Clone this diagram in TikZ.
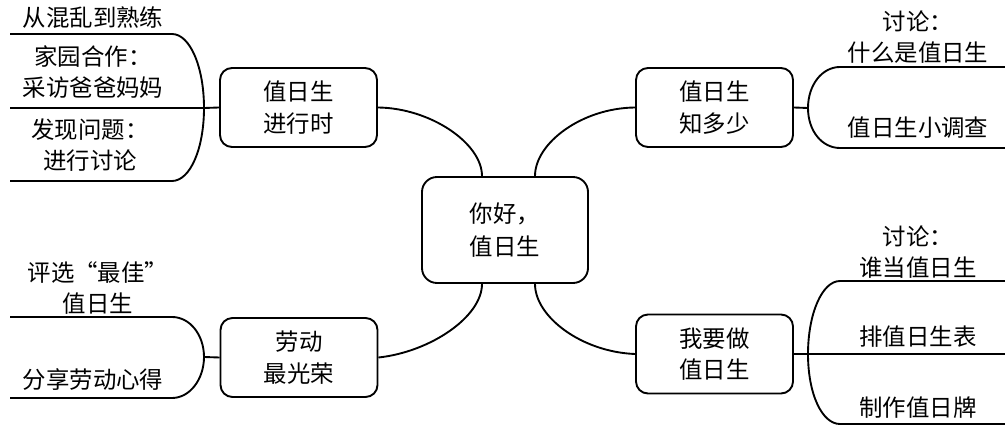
\documentclass[tikz,border=0pt]{standalone}
\usepackage{fontspec}
\setmainfont{Noto Sans CJK SC}

\begin{document}
\begin{tikzpicture}[x=0.03cm,y=-0.03cm,line width=1.6pt,
                    hub/.style={draw,rounded corners=0.45cm,minimum width=4.98cm,minimum height=3.18cm,
                      align=center,font=\fontsize{20}{28}\selectfont},
                    branch/.style={draw,rounded corners=0.36cm,minimum width=4.71cm,minimum height=2.37cm,
                      align=center,font=\fontsize{20}{27}\selectfont},
                    leaf/.style={align=center,font=\fontsize{20}{27}\selectfont}]
  \useasboundingbox (0,0) rectangle (1005,426);
  % centre and branches
  \node[hub] (hub) at (505,230) {你好，\\值日生};
  \node[branch] (now) at (298.5,107.5) {值日生\\进行时};
  \node[branch] (know) at (714.5,107.5) {值日生\\知多少};
  \node[branch] (labour) at (299,357.5) {劳动\\最光荣};
  \node[branch] (duty) at (714.5,354) {我要做\\值日生};
  \draw (now.east) .. controls (430,108) and (482,143) .. ([xshift=-0.69cm]hub.north);
  \draw (know.west) .. controls (582,108) and (535,143) .. ([xshift=0.9cm]hub.north);
  \draw (labour.east) .. controls (430,352) and (482,317) .. ([xshift=-0.69cm]hub.south);
  \draw (duty.west) .. controls (582,352) and (535,317) .. ([xshift=0.9cm]hub.south);
  % junctions
  \coordinate (j1) at (204,108);
  \coordinate (j2) at (808,108);
  \coordinate (j3) at (204,357);
  \coordinate (j4) at (808,354);
  \draw (now.west) -- (j1);
  \draw (know.east) -- (j2);
  \draw (labour.west) -- (j3);
  \draw (duty.east) -- (j4);
  % leaves: 值日生进行时
  \draw (j1) .. controls (204,67) and (190,34) .. (172,34) -- (10,34);
  \draw (j1) -- (10,108);
  \draw (j1) .. controls (204,149) and (190,181) .. (172,181) -- (10,181);
  \node[leaf] (a1) at (93,18) {从混乱到熟练};
  \node[leaf] (a2) at (93,72) {家园合作：\\采访爸爸妈妈};
  \node[leaf] (a3) at (90,145) {发现问题：\\进行讨论};
  % leaves: 值日生知多少
  \draw (j2) .. controls (808,85) and (822,67) .. (840,67) -- (1005,67);
  \draw (j2) .. controls (808,131) and (822,148) .. (840,148) -- (1005,148);
  \node[leaf] (b1) at (918,37) {讨论：\\什么是值日生};
  \node[leaf] (b2) at (918,128) {值日生小调查};
  % leaves: 劳动最光荣
  \draw (j3) .. controls (204,335) and (190,317) .. (172,317) -- (10,317);
  \draw (j3) .. controls (204,379) and (190,398) .. (172,398) -- (10,398);
  \node[leaf] (c1) at (98,288) {评选“最佳”\\值日生};
  \node[leaf] (c2) at (93,380) {分享劳动心得};
  % leaves: 我要做值日生
  \draw (j4) .. controls (808,314) and (822,281) .. (840,281) -- (1005,281);
  \draw (j4) -- (1005,354);
  \draw (j4) .. controls (808,394) and (822,424) .. (840,424) -- (1005,424);
  \node[leaf] (d1) at (918,252) {讨论：\\谁当值日生};
  \node[leaf] (d2) at (918,337) {排值日生表};
  \node[leaf] (d3) at (918,408) {制作值日牌};
\end{tikzpicture}
\end{document}
